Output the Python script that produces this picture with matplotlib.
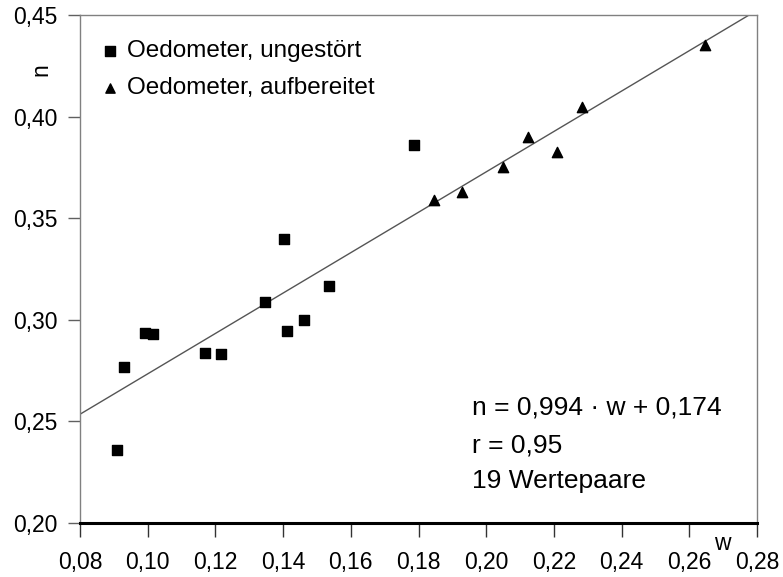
import numpy as np
import matplotlib
matplotlib.use("Agg")
import matplotlib.pyplot as plt

plt.rcParams['font.family'] = ['Liberation Sans', 'DejaVu Sans']

# Oedometer, ungestoert (squares)
w_ung = [0.0909, 0.0930, 0.0992, 0.1016, 0.1170, 0.1217, 0.1347, 0.1403, 0.1412, 0.1462, 0.1536, 0.1787]
n_ung = [0.2359, 0.2770, 0.2935, 0.2930, 0.2837, 0.2830, 0.3090, 0.3398, 0.2945, 0.3000, 0.3166, 0.3860]

# Oedometer, aufbereitet (triangles)
w_auf = [0.1846, 0.1929, 0.2050, 0.2124, 0.2210, 0.2283, 0.2646]
n_auf = [0.3590, 0.3630, 0.3750, 0.3900, 0.3826, 0.4047, 0.4352]

slope = 0.994
intercept = 0.174
stats = ['n = 0,994 · w + 0,174', 'r = 0,95', '19 Wertepaare']

xticks = [0.08, 0.10, 0.12, 0.14, 0.16, 0.18, 0.20, 0.22, 0.24, 0.26, 0.28]
yticks = [0.20, 0.25, 0.30, 0.35, 0.40, 0.45]

W, H = 783, 577
fig = plt.figure(figsize=(W / 100, H / 100), dpi=100)
ax = fig.add_axes([80 / W, 54 / H, 677 / W, 508 / H])

# regression line
xl = np.array([0.08, 0.28])
ax.plot(xl, slope * xl + intercept, color='#555555', lw=1.0, zorder=1)

ax.scatter(w_ung, n_ung, marker='s', s=60, color='black', zorder=3,
           label='Oedometer, ungestört')
ax.scatter(w_auf, n_auf, marker='^', s=55, color='black', zorder=3,
           label='Oedometer, aufbereitet')

ax.set_xlim(0.08, 0.28)
ax.set_ylim(0.20, 0.45)
ax.set_xticks(xticks)
ax.set_yticks(yticks)
ax.set_xticklabels([f"{v:.2f}".replace('.', ',') for v in xticks])
ax.set_yticklabels([f"{v:.2f}".replace('.', ',') for v in yticks])
ax.tick_params(axis='y', direction='out', length=9, width=1, color='#606060',
               labelsize=16.5, pad=7)
ax.tick_params(axis='x', direction='out', length=10, width=1, color='#333333',
               labelsize=16.5, pad=10)

for side in ['left', 'top', 'right']:
    ax.spines[side].set_color('#808080')
    ax.spines[side].set_linewidth(1.0)
ax.spines['bottom'].set_color('black')
ax.spines['bottom'].set_linewidth(2.2)

# axis labels
fig.text(41 / W, 1 - 70 / H, 'n', rotation=90, fontsize=16.5,
         ha='center', va='center')
fig.text(722 / W, 1 - 544 / H, 'w', fontsize=16.5, ha='center', va='center')

ax.legend(loc='upper left', bbox_to_anchor=(0.034, 0.951), frameon=False,
          fontsize=17.5, handlelength=0.6, handletextpad=0.38, borderpad=0,
          borderaxespad=0, labelspacing=0.62, markerscale=0.9)

# statistics text
for txt, yb in zip(stats, [415, 452, 488]):
    fig.text(472 / W, 1 - yb / H, txt, fontsize=19, ha='left', va='baseline')

fig.savefig('out.png', dpi=100)
